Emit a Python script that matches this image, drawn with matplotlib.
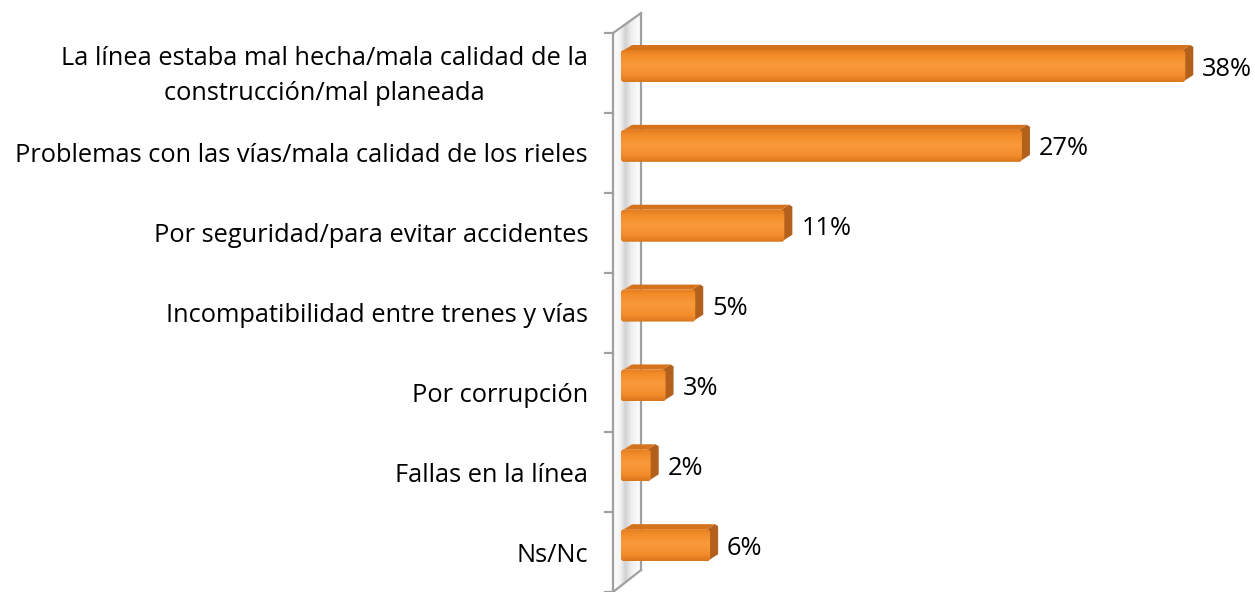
import numpy as np
import matplotlib
matplotlib.use("Agg")
import matplotlib.pyplot as plt
from matplotlib.patches import FancyBboxPatch, Polygon
from matplotlib.colors import LinearSegmentedColormap

categories = [
    "La línea estaba mal hecha/mala calidad de la\nconstrucción/mal planeada",
    "Problemas con las vías/mala calidad de los rieles",
    "Por seguridad/para evitar accidentes",
    "Incompatibilidad entre trenes y vías",
    "Por corrupción",
    "Fallas en la línea",
    "Ns/Nc",
]
values = [38, 27, 11, 5, 3, 2, 6]
value_labels = ["38%", "27%", "11%", "5%", "3%", "2%", "6%"]

W, H = 1255, 592
fig = plt.figure(figsize=(W / 100, H / 100), dpi=100)
ax = fig.add_axes([0, 0, 1, 1])
ax.set_axis_off()

# scale: px per unit
PX_X = 14.85
PX_Y = 79.86
X0 = 621.0   # pixel of value 0
Y0 = 73.0    # pixel of category 0 center
xlim = (-X0 / PX_X, (W - X0) / PX_X)
ylim = ((H - Y0) / PX_Y, -Y0 / PX_Y)

def px2x(p):
    return (p - X0) / PX_X

FONT = "Open Sans"
FS = 18.3

# ---- wall (3D back wall) ----
wall_front_x = px2x(613)
wall_back_x = px2x(641)
dy_back = 20 / PX_Y
ntick = len(categories)
wf_top, wf_bot = -0.5, ntick - 0.5
wall_poly = [(wall_front_x, wf_top), (wall_back_x, wf_top - dy_back),
             (wall_back_x, wf_bot - dy_back * 1.1), (wall_front_x, wf_bot)]
shade = LinearSegmentedColormap.from_list(
    "shade", [(0, "#ffffff"), (0.25, "#f4f4f4"), (0.45, "#d2d2d2"), (0.65, "#eeeeee"), (1.0, "#ffffff")])
grad_h = np.linspace(0, 1, 200).reshape(1, -1)
wp = Polygon(wall_poly, closed=True, facecolor="none", edgecolor="none")
ax.add_patch(wp)
im = ax.imshow(grad_h, extent=(wall_front_x, wall_back_x, wf_top - dy_back, wf_bot),
               aspect="auto", cmap=shade, origin="lower", zorder=1)
im.set_clip_path(wp)
lc = "#a0a0a0"
lw = 1.6
ax.plot([wall_front_x, wall_front_x], [wf_top, wf_bot], color=lc, lw=lw, zorder=2, solid_capstyle="butt")
ax.plot([wall_back_x, wall_back_x], [wf_top - dy_back, wf_bot - dy_back * 1.1], color=lc, lw=lw, zorder=2)
ax.plot([wall_front_x, wall_back_x], [wf_top, wf_top - dy_back], color=lc, lw=lw, zorder=2)
ax.plot([wall_front_x, wall_back_x], [wf_bot, wf_bot - dy_back * 1.1], color=lc, lw=lw, zorder=2)
for k in range(ntick + 1):
    yk = k - 0.5
    ax.plot([px2x(605), wall_front_x], [yk, yk], color=lc, lw=lw, zorder=2)

# ---- bars ----
front_cmap = LinearSegmentedColormap.from_list(
    "front", [(0, "#e27d1f"), (0.15, "#f28b28"), (0.45, "#f99a3a"), (0.8, "#f38d2b"), (1.0, "#d8761c")])
grad_v = np.linspace(0, 1, 100).reshape(-1, 1)
dx3 = 8 / PX_X       # depth offset in x
dy3 = 5 / PX_Y       # depth offset in y
half = 16 / PX_Y
yoff = -7 / PX_Y
rnd = 3.0 / PX_X
asp = (1 / PX_Y) / (1 / PX_X)

for i, (v, lab) in enumerate(zip(values, value_labels)):
    yc = i + yoff
    yt, yb = yc - half, yc + half
    side = Polygon([(v - rnd, yt), (v - rnd + dx3, yt - dy3), (v + dx3, yt - dy3 + 2 / PX_Y),
                    (v + dx3, yb - dy3 - 2 / PX_Y), (v - rnd + dx3, yb - dy3), (v - rnd, yb)],
                   closed=True, facecolor="#b3601c", edgecolor="none", zorder=3)
    ax.add_patch(side)
    top = Polygon([(0.2, yt), (dx3 + 0.2, yt - dy3), (v - rnd + dx3, yt - dy3), (v - rnd, yt)],
                  closed=True, facecolor="#d4731c", edgecolor="none", zorder=3)
    ax.add_patch(top)
    fb = FancyBboxPatch((0, yt), v, yb - yt,
                        boxstyle=f"round,pad=0,rounding_size={rnd}",
                        mutation_aspect=asp, facecolor="none", edgecolor="none", zorder=4)
    ax.add_patch(fb)
    imb = ax.imshow(grad_v, extent=(0, v, yt, yb), aspect="auto", cmap=front_cmap,
                    origin="lower", zorder=4)
    imb.set_clip_path(fb)
    ax.text(v + 17 / PX_X, i - 4 / PX_Y, lab, ha="left", va="center",
            fontsize=FS, family=FONT, color="#000000", zorder=5)

for i, c in enumerate(categories):
    ax.text(px2x(588), i + 3 / PX_Y, c, ha="right", va="center", multialignment="center",
            fontsize=FS, family=FONT, color="#000000", linespacing=1.5)

ax.set_xlim(*xlim)
ax.set_ylim(*ylim)
fig.savefig("out.png", dpi=100, facecolor="white")
